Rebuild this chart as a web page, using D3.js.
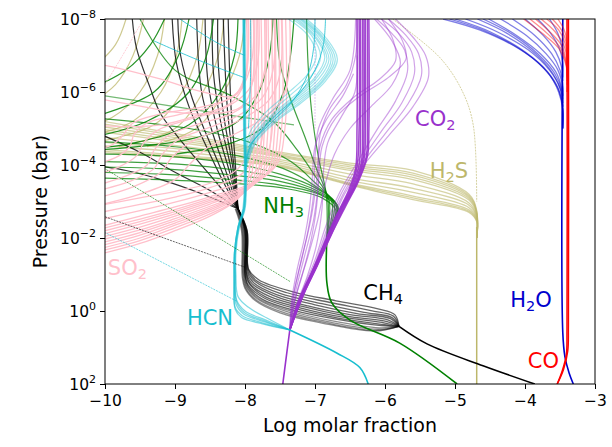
<!DOCTYPE html>
<html>
<head>
<meta charset="utf-8">
<script src="https://cdn.jsdelivr.net/npm/d3@7"></script>
<style>
  body { margin: 0; background: #fff; }
  svg { display: block; font-family: "DejaVu Sans", sans-serif; }
</style>
</head>
<body>
<svg width="612" height="447"></svg>
<script>
// axis ticks
const xTicks = [-10, -9, -8, -7, -6, -5, -4, -3];
const pTicks = [-8, -6, -4, -2, 0, 2];

// every profile is a list of [log molar fraction, log10 pressure (bar)]
const coMain = [
  [[-3.54, 2], [-3.47, 1.65], [-3.41, 1.2], [-3.40, 0.5], [-3.40, -8]],
  [[-3.54, 2], [-3.45, 1.6], [-3.39, 1.1], [-3.38, 0.4], [-3.38, -8]]
];
const coFan = [
  [[-4.02, -8], [-3.75, -7.6], [-3.52, -7.2], [-3.41, -6.7], [-3.40, -6.0]],
  [[-3.93, -8], [-3.68, -7.6], [-3.49, -7.2], [-3.41, -6.75], [-3.40, -6.0]],
  [[-3.85, -8], [-3.62, -7.6], [-3.47, -7.25], [-3.41, -6.8], [-3.40, -6.2]],
  [[-3.77, -8], [-3.57, -7.65], [-3.45, -7.3], [-3.40, -6.9], [-3.40, -6.3]],
  [[-3.69, -8], [-3.52, -7.7], [-3.43, -7.35], [-3.40, -7.0], [-3.40, -6.4]],
  [[-3.61, -8], [-3.48, -7.7], [-3.41, -7.35], [-3.40, -6.6]],
  [[-3.53, -8], [-3.44, -7.7], [-3.40, -7.4], [-3.40, -6.8]]
];

const h2oMain = [
  [[-3.31, 2], [-3.37, 1.7], [-3.43, 1.25], [-3.46, 0.6], [-3.46, -8]]
];
const h2oFan = [
  [[-5.17, -8], [-4.65, -7.7], [-4.1, -7.2], [-3.75, -6.7], [-3.55, -6.2], [-3.47, -5.7], [-3.46, -5.0]],
  [[-5.08, -8], [-4.58, -7.68], [-4.05, -7.15], [-3.72, -6.62], [-3.53, -6.1], [-3.46, -5.6], [-3.46, -5.0]],
  [[-5.0, -8], [-4.5, -7.65], [-4.0, -7.1], [-3.68, -6.55], [-3.52, -6.0], [-3.46, -5.5], [-3.46, -5.0]],
  [[-4.85, -8], [-4.4, -7.65], [-3.95, -7.15], [-3.65, -6.6], [-3.5, -6.1], [-3.46, -5.6], [-3.46, -5.0]],
  [[-4.68, -8], [-4.25, -7.6], [-3.85, -7.05], [-3.6, -6.5], [-3.48, -6.0], [-3.46, -5.6]],
  [[-4.6, -8], [-4.18, -7.58], [-3.82, -7.05], [-3.58, -6.52], [-3.47, -6.02], [-3.46, -5.6]],
  [[-4.52, -8], [-4.12, -7.55], [-3.78, -7.05], [-3.56, -6.55], [-3.47, -6.05], [-3.46, -5.7]],
  [[-4.35, -8], [-3.98, -7.55], [-3.7, -7.05], [-3.53, -6.6], [-3.46, -6.1], [-3.46, -5.8]],
  [[-4.18, -8], [-3.86, -7.55], [-3.62, -7.05], [-3.5, -6.6], [-3.46, -6.2], [-3.46, -5.9]],
  [[-4.0, -8], [-3.74, -7.55], [-3.56, -7.1], [-3.48, -6.7], [-3.46, -6.3]],
  [[-3.82, -8], [-3.63, -7.6], [-3.51, -7.2], [-3.46, -6.8], [-3.46, -6.4]],
  [[-3.65, -8], [-3.53, -7.6], [-3.47, -7.2], [-3.46, -6.9]]
];

const ch4Deep = [
  [[-3.86, 2], [-4.6, 1.5], [-5.4, 0.9], [-5.8, 0.42]]
];
const ch4Band = [
  [[-5.8, 0.42], [-5.86, 0.1], [-6.1, -0.06], [-6.7, -0.28], [-7.3, -0.52], [-7.8, -0.85], [-7.95, -1.15], [-7.97, -2.2], [-8.1, -2.8]],
  [[-5.8, 0.42], [-5.88, 0.14], [-6.2, -0.01], [-6.8, -0.24], [-7.4, -0.5], [-7.83, -0.82], [-7.95, -1.12], [-7.97, -2.2], [-8.1, -2.8]],
  [[-5.8, 0.42], [-5.9, 0.18], [-6.3, 0.04], [-6.9, -0.2], [-7.5, -0.48], [-7.85, -0.8], [-7.96, -1.1], [-7.98, -2.2], [-8.1, -2.8]],
  [[-5.8, 0.42], [-5.92, 0.21], [-6.4, 0.07], [-7.0, -0.17], [-7.55, -0.45], [-7.88, -0.78], [-7.97, -1.08], [-7.98, -2.2], [-8.1, -2.8]],
  [[-5.8, 0.42], [-5.95, 0.25], [-6.5, 0.1], [-7.1, -0.14], [-7.6, -0.43], [-7.9, -0.75], [-7.98, -1.05], [-7.99, -2.2], [-8.1, -2.8]],
  [[-5.8, 0.42], [-5.97, 0.29], [-6.55, 0.14], [-7.15, -0.11], [-7.65, -0.4], [-7.92, -0.73], [-7.98, -1.02], [-7.99, -2.2], [-8.1, -2.8]],
  [[-5.8, 0.42], [-6.0, 0.33], [-6.6, 0.17], [-7.2, -0.08], [-7.7, -0.38], [-7.93, -0.72], [-7.99, -1.0], [-8.0, -2.2], [-8.1, -2.8]],
  [[-5.8, 0.42], [-6.03, 0.37], [-6.65, 0.2], [-7.25, -0.05], [-7.72, -0.35], [-7.95, -0.7], [-8.0, -1.0], [-8.0, -2.2], [-8.1, -2.8]],
  [[-5.8, 0.42], [-6.05, 0.4], [-6.7, 0.22], [-7.3, -0.02], [-7.75, -0.32], [-7.96, -0.68], [-8.0, -1.0], [-8.01, -2.2], [-8.1, -2.8]]
];
const ch4BandGrey = [
  [[-5.8, 0.42], [-6.08, 0.46], [-6.75, 0.27], [-7.35, 0.0], [-7.78, -0.31], [-7.97, -0.66], [-8.01, -1.0], [-8.02, -2.2], [-8.11, -2.8]],
  [[-5.8, 0.42], [-6.1, 0.5], [-6.8, 0.3], [-7.4, 0.02], [-7.8, -0.3], [-7.98, -0.65], [-8.02, -1.0], [-8.03, -2.2], [-8.12, -2.8]],
  [[-5.8, 0.42], [-6.13, 0.53], [-6.85, 0.32], [-7.45, 0.04], [-7.83, -0.29], [-7.99, -0.63], [-8.03, -0.97], [-8.04, -2.2], [-8.13, -2.8]],
  [[-5.8, 0.42], [-6.15, 0.55], [-6.9, 0.33], [-7.5, 0.05], [-7.85, -0.28], [-8.0, -0.62], [-8.04, -0.95], [-8.05, -2.2], [-8.14, -2.8]]
];
const ch4Upper = [
  [[-8.1, -2.8], [-8.4, -3.5], [-8.96, -4.77], [-9.21, -5.42], [-9.36, -6.14], [-9.55, -7.2], [-9.61, -8]],
  [[-8.1, -2.8], [-8.3, -3.5], [-8.55, -4.5], [-8.8, -5.6], [-8.98, -6.8], [-9.04, -8]],
  [[-8.1, -2.8], [-8.28, -3.6], [-8.5, -4.6], [-8.75, -5.8], [-8.92, -7.0], [-8.96, -8]],
  [[-8.1, -2.8], [-8.25, -3.7], [-8.45, -4.8], [-8.62, -6.0], [-8.69, -8]],
  [[-8.1, -2.8], [-8.22, -3.8], [-8.4, -5.0], [-8.53, -6.3], [-8.57, -8]],
  [[-8.1, -2.8], [-8.2, -3.9], [-8.35, -5.2], [-8.45, -6.5], [-8.47, -8]],
  [[-8.1, -2.8], [-8.18, -4.0], [-8.3, -5.3], [-8.38, -6.7], [-8.39, -8]],
  [[-8.1, -2.8], [-8.16, -4.0], [-8.25, -5.5], [-8.31, -8]],
  [[-8.1, -2.8], [-8.14, -4.1], [-8.2, -5.6], [-8.24, -8]],
  [[-8.1, -2.8], [-8.5, -3.3], [-9.0, -3.8], [-9.5, -4.35], [-10.2, -4.95]],
  [[-8.1, -2.8], [-8.6, -3.2], [-9.2, -3.6], [-9.7, -3.85], [-10.2, -4.0]]
];

const nh3Deep = [
  [[-4.97, 2], [-5.79, 0.88], [-6.5, 0.25], [-6.76, -0.22], [-6.83, -0.77], [-6.83, -2.0]]
];
const nh3Fan = [
  [[-6.83, -2.0], [-6.7, -2.75], [-6.9, -3.1], [-7.4, -3.35], [-8.2, -3.5], [-9.2, -3.6], [-10.2, -3.65]],
  [[-6.83, -2.0], [-6.68, -2.8], [-6.92, -3.18], [-7.5, -3.45], [-8.3, -3.62], [-9.2, -3.75], [-10.2, -3.8]],
  [[-6.83, -2.0], [-6.67, -2.85], [-6.95, -3.23], [-7.5, -3.55], [-8.3, -3.75], [-9.2, -3.9], [-10.2, -3.95]],
  [[-6.83, -2.0], [-6.68, -2.88], [-6.98, -3.3], [-7.5, -3.65], [-8.3, -3.9], [-9.2, -4.05], [-10.2, -4.1]],
  [[-6.83, -2.0], [-6.7, -2.92], [-7.0, -3.38], [-7.5, -3.75], [-8.2, -4.05], [-9.2, -4.25], [-10.2, -4.3]],
  [[-6.83, -2.0], [-6.73, -2.96], [-7.02, -3.45], [-7.45, -3.9], [-8.1, -4.25], [-9.0, -4.5], [-10.2, -4.65]],
  [[-6.83, -2.0], [-6.76, -3.0], [-7.02, -3.55], [-7.35, -4.1], [-7.9, -4.6], [-8.8, -5.0], [-10.2, -5.3]],
  [[-6.83, -2.0], [-6.8, -3.05], [-7.0, -3.7], [-7.25, -4.4], [-7.6, -5.2], [-8.2, -5.9], [-9.0, -6.6], [-9.5, -8]],
  [[-6.83, -2.0], [-6.82, -3.1], [-6.98, -3.9], [-7.15, -4.8], [-7.35, -5.8], [-7.5, -6.8], [-7.55, -8]],
  [[-6.83, -2.0], [-6.84, -3.2], [-6.95, -4.2], [-7.05, -5.5], [-7.1, -6.8], [-7.12, -8]]
];
const nh3Upper = [
  [[-9.15, -8], [-9.35, -7.3], [-9.7, -6.6], [-10.2, -6.1]],
  [[-8.8, -8], [-8.95, -7.0], [-9.3, -6.0], [-10.2, -5.3]],
  [[-8.45, -8], [-8.55, -7.0], [-8.8, -6.0], [-9.4, -5.2], [-10.2, -4.75]],
  [[-8.1, -8], [-8.15, -7.0], [-8.35, -6.0], [-8.8, -5.1], [-9.6, -4.6], [-10.2, -4.45]],
  [[-7.6, -8], [-7.65, -7.0], [-7.8, -6.0], [-8.1, -5.2], [-8.8, -4.7], [-10.2, -4.4]],
  [[-7.3, -8], [-7.35, -7.0], [-7.45, -6.0], [-7.7, -5.1], [-8.2, -4.6], [-9.0, -4.3]]
];
const nh3Light = [
  [[-10.2, -5.95], [-9.0, -5.6], [-8.0, -5.3], [-7.3, -5.1]]
];

const hcnDeep = [
  [[-6.24, 2], [-6.36, 1.55], [-6.69, 1.15], [-7.36, 0.52]]
];
const hcnBand = [
  [[-7.36, 0.52], [-7.68, 0.2], [-7.95, -0.1], [-8.1, -0.4], [-8.13, -1.0], [-8.13, -1.6], [-8.08, -2.3], [-8.0, -2.8], [-7.98, -3.5], [-7.99, -5], [-8.0, -8]],
  [[-7.36, 0.52], [-7.7, 0.25], [-8.0, 0.0], [-8.12, -0.3], [-8.14, -1.0], [-8.14, -1.6], [-8.09, -2.3], [-8.01, -2.8], [-7.99, -3.5], [-8.0, -5], [-8.01, -8]],
  [[-7.36, 0.52], [-7.71, 0.28], [-8.01, 0.04], [-8.12, -0.25], [-8.14, -1.0], [-8.14, -1.6], [-8.09, -2.3], [-8.01, -2.8], [-7.99, -3.5], [-8.0, -5], [-8.01, -8]],
  [[-7.36, 0.52], [-7.72, 0.3], [-8.02, 0.08], [-8.13, -0.2], [-8.15, -1.0], [-8.15, -1.6], [-8.1, -2.3], [-8.02, -2.8], [-8.0, -3.5], [-8.01, -5], [-8.02, -8]],
  [[-7.36, 0.52], [-7.74, 0.33], [-8.04, 0.13], [-8.14, -0.1], [-8.15, -0.8], [-8.15, -1.6], [-8.1, -2.3], [-8.02, -2.8], [-8.0, -3.5], [-8.01, -5], [-8.02, -8]],
  [[-7.36, 0.52], [-7.75, 0.35], [-8.05, 0.18], [-8.14, -0.05], [-8.16, -0.6], [-8.15, -1.6], [-8.1, -2.3], [-8.03, -2.8], [-8.01, -3.5], [-8.02, -5], [-8.03, -8]]
];
const hcnUpperFan = [
  [[-8.0, -3.8], [-7.85, -4.6], [-7.55, -5.2], [-7.2, -5.7], [-6.85, -6.3], [-6.68, -6.9], [-6.85, -7.5], [-7.12, -8]],
  [[-8.0, -3.85], [-7.86, -4.62], [-7.56, -5.22], [-7.22, -5.72], [-6.88, -6.3], [-6.71, -6.9], [-6.88, -7.5], [-7.15, -8]],
  [[-8.0, -3.9], [-7.87, -4.65], [-7.58, -5.25], [-7.24, -5.75], [-6.9, -6.3], [-6.74, -6.9], [-6.9, -7.5], [-7.18, -8]],
  [[-8.0, -3.95], [-7.87, -4.68], [-7.59, -5.28], [-7.26, -5.78], [-6.92, -6.32], [-6.77, -6.9], [-6.92, -7.5], [-7.2, -8]],
  [[-8.0, -4.0], [-7.88, -4.7], [-7.6, -5.3], [-7.28, -5.8], [-6.95, -6.35], [-6.8, -6.9], [-6.95, -7.5], [-7.22, -8]],
  [[-8.0, -4.05], [-7.89, -4.72], [-7.62, -5.32], [-7.3, -5.82], [-6.98, -6.38], [-6.83, -6.92], [-6.98, -7.5], [-7.25, -8]],
  [[-8.0, -4.1], [-7.9, -4.75], [-7.63, -5.35], [-7.32, -5.85], [-7.0, -6.4], [-6.86, -6.95], [-7.0, -7.5], [-7.28, -8]],
  [[-8.0, -4.2], [-7.92, -4.8], [-7.66, -5.4], [-7.36, -5.9], [-7.05, -6.45], [-6.92, -6.95], [-7.05, -7.55], [-7.32, -8]],
  [[-8.0, -4.3], [-7.93, -4.9], [-7.7, -5.45], [-7.4, -5.95], [-7.1, -6.5], [-6.98, -7.0], [-7.1, -7.55], [-7.38, -8]]
];
const hcnUpperLines = [
  [[-7.0, -8], [-7.02, -7.2], [-7.1, -6.5], [-7.3, -5.8], [-7.6, -5.2], [-7.9, -4.6], [-8.0, -4.0]],
  [[-6.85, -8], [-6.88, -7.3], [-7.0, -6.6], [-7.25, -5.9], [-7.6, -5.3], [-7.95, -4.5]],
  [[-8.93, -8], [-8.4, -7.35], [-8.0, -7.0]],
  [[-9.3, -7.4], [-8.7, -6.9], [-8.02, -6.4]],
  [[-7.92, -8], [-7.92, -6.5], [-7.95, -5.0]]
];

const co2Deep = [
  [[-7.46, 2], [-7.42, 1.4], [-7.36, 0.52]]
];
const co2Main = [
  [[-7.36, 0.52], [-7.24, -0.25], [-7.05, -1.05], [-6.88, -1.8], [-6.7, -2.6], [-6.52, -3.3], [-6.42, -3.9], [-6.4, -5.0], [-6.4, -8]],
  [[-7.36, 0.52], [-7.23, -0.28], [-7.04, -1.08], [-6.86, -1.85], [-6.68, -2.65], [-6.5, -3.32], [-6.4, -3.95], [-6.37, -5.0], [-6.37, -8]],
  [[-7.36, 0.52], [-7.22, -0.3], [-7.02, -1.1], [-6.85, -1.9], [-6.66, -2.7], [-6.48, -3.35], [-6.37, -4.0], [-6.35, -5.0], [-6.35, -8]],
  [[-7.36, 0.52], [-7.21, -0.33], [-7.01, -1.15], [-6.83, -1.95], [-6.64, -2.75], [-6.46, -3.38], [-6.34, -4.05], [-6.32, -5.0], [-6.32, -8]],
  [[-7.36, 0.52], [-7.2, -0.35], [-7.0, -1.2], [-6.82, -2.0], [-6.62, -2.8], [-6.44, -3.4], [-6.32, -4.1], [-6.3, -5.0], [-6.3, -8]],
  [[-7.36, 0.52], [-7.19, -0.38], [-6.98, -1.22], [-6.8, -2.02], [-6.6, -2.82], [-6.42, -3.45], [-6.3, -4.15], [-6.28, -5.0], [-6.28, -8]],
  [[-7.36, 0.52], [-7.18, -0.4], [-6.97, -1.25], [-6.78, -2.05], [-6.58, -2.85], [-6.4, -3.5], [-6.27, -4.2], [-6.25, -5.0], [-6.25, -8]],
  [[-7.36, 0.52], [-7.17, -0.42], [-6.96, -1.27], [-6.77, -2.08], [-6.56, -2.88], [-6.38, -3.55], [-6.25, -4.25], [-6.23, -5.0], [-6.23, -8]]
];
const co2Light = [
  [[-7.36, 0.52], [-7.3, -0.2], [-7.18, -1.0], [-7.05, -2.0], [-6.97, -3.0], [-6.95, -4.0], [-6.93, -4.8], [-6.8, -5.5], [-6.55, -6.2], [-6.42, -7.0], [-6.4, -8]],
  [[-7.36, 0.52], [-7.32, -0.3], [-7.22, -1.2], [-7.1, -2.2], [-7.02, -3.2], [-7.0, -4.2], [-6.95, -5.0], [-6.75, -5.8], [-6.5, -6.6], [-6.42, -8]],
  [[-7.36, 0.52], [-7.28, -0.1], [-7.12, -0.9], [-6.98, -1.8], [-6.9, -2.8], [-6.88, -3.8], [-6.82, -4.6], [-6.6, -5.4], [-6.43, -6.0], [-6.4, -7]],
  [[-7.36, 0.52], [-7.34, -0.2], [-7.26, -1.1], [-7.15, -2.0], [-7.08, -2.8], [-7.04, -3.6], [-7.0, -4.5], [-6.85, -5.2], [-6.6, -5.9], [-6.45, -6.5]],
  [[-7.36, 0.52], [-7.15, -0.5], [-6.95, -1.4], [-6.78, -2.3], [-6.58, -3.2], [-6.3, -4.0], [-5.95, -4.8], [-5.6, -5.6], [-5.38, -6.4], [-5.42, -7.0], [-5.6, -7.5], [-5.85, -8]],
  [[-7.36, 0.52], [-7.16, -0.5], [-6.96, -1.4], [-6.8, -2.3], [-6.6, -3.2], [-6.34, -4.0], [-6.0, -4.85], [-5.68, -5.65], [-5.48, -6.45], [-5.52, -7.05], [-5.7, -7.55], [-5.95, -8]],
  [[-7.36, 0.52], [-7.17, -0.5], [-6.98, -1.4], [-6.82, -2.3], [-6.63, -3.2], [-6.38, -4.0], [-6.06, -4.9], [-5.76, -5.7], [-5.58, -6.5], [-5.62, -7.1], [-5.8, -7.6], [-6.05, -8]],
  [[-7.36, 0.52], [-7.19, -0.5], [-7.0, -1.4], [-6.85, -2.3], [-6.66, -3.2], [-6.42, -4.0], [-6.12, -4.95], [-5.85, -5.75], [-5.68, -6.55], [-5.72, -7.15], [-5.9, -7.6], [-6.12, -8]],
  [[-7.36, 0.52], [-7.28, -0.5], [-7.15, -1.5], [-7.02, -2.5], [-6.95, -3.5], [-6.9, -4.5], [-6.7, -5.3], [-6.35, -5.9], [-5.95, -6.4], [-5.7, -6.9], [-5.75, -7.4], [-5.95, -8]],
  [[-7.36, 0.52], [-7.3, -0.5], [-7.18, -1.5], [-7.06, -2.5], [-6.98, -3.5], [-6.93, -4.5], [-6.76, -5.25], [-6.45, -5.85], [-6.08, -6.35], [-5.85, -6.85], [-5.88, -7.4], [-6.05, -8]],
  [[-7.36, 0.52], [-7.26, -0.5], [-7.1, -1.5], [-6.96, -2.5], [-6.85, -3.5], [-6.72, -4.3], [-6.5, -5.0], [-6.2, -5.6], [-5.9, -6.2], [-5.78, -6.8], [-5.9, -7.4], [-6.15, -8]]
];
const co2Thin = [
  [[-7.0, -8], [-7.0, -5.0]]
];

const h2sMain = [
  [[-4.69, 2], [-4.69, -2.3]]
];
const h2sBand = [
  [[-4.69, -2.0], [-4.69, -2.75], [-4.8, -3.2], [-5.6, -3.85], [-6.5, -4.05], [-7.5, -4.35], [-8.5, -4.7], [-10.2, -5.25]],
  [[-4.69, -2.0], [-4.69, -2.72], [-4.8, -3.16], [-5.6, -3.78], [-6.5, -4.0], [-7.5, -4.32], [-8.5, -4.65], [-10.2, -5.18]],
  [[-4.69, -2.0], [-4.69, -2.7], [-4.8, -3.12], [-5.6, -3.72], [-6.5, -3.95], [-7.5, -4.28], [-8.5, -4.6], [-10.2, -5.1]],
  [[-4.69, -2.0], [-4.69, -2.67], [-4.8, -3.08], [-5.6, -3.66], [-6.5, -3.9], [-7.5, -4.25], [-8.5, -4.55], [-10.2, -5.02]],
  [[-4.69, -2.0], [-4.69, -2.65], [-4.8, -3.04], [-5.6, -3.6], [-6.5, -3.85], [-7.5, -4.22], [-8.5, -4.5], [-10.2, -4.95]],
  [[-4.69, -2.0], [-4.69, -2.6], [-4.8, -2.96], [-5.6, -3.48], [-6.5, -3.75], [-7.5, -4.15], [-8.5, -4.42], [-10.2, -4.8]],
  [[-4.69, -2.0], [-4.69, -2.57], [-4.8, -2.9], [-5.6, -3.36], [-6.5, -3.65], [-7.5, -4.1], [-8.5, -4.35], [-10.2, -4.65]],
  [[-4.69, -2.0], [-4.69, -2.53], [-4.8, -2.83], [-5.6, -3.25], [-6.5, -3.57], [-7.5, -4.05], [-8.5, -4.28], [-10.2, -4.55]],
  [[-4.69, -2.0], [-4.69, -2.5], [-4.8, -2.77], [-5.6, -3.15], [-6.5, -3.5], [-7.5, -4.0], [-8.5, -4.2], [-10.2, -4.45]],
  [[-4.69, -2.0], [-4.69, -2.47], [-4.8, -2.73], [-5.6, -3.1], [-6.5, -3.47], [-7.5, -3.97], [-8.5, -4.17], [-10.2, -4.4]],
  [[-4.69, -2.0], [-4.69, -2.45], [-4.8, -2.7], [-5.6, -3.05], [-6.5, -3.45], [-7.5, -3.95], [-8.5, -4.15], [-10.2, -4.35]]
];
const h2sUpper = [
  [[-9.7, -8], [-9.85, -7.3], [-10.2, -6.6]],
  [[-9.45, -8], [-9.6, -7.0], [-9.85, -6.2], [-10.2, -5.7]],
  [[-9.15, -8], [-9.25, -7.0], [-9.5, -6.0], [-9.9, -5.3], [-10.2, -5.1]],
  [[-8.9, -8], [-8.98, -7.0], [-9.2, -6.0], [-9.6, -5.2], [-10.2, -4.8]],
  [[-8.6, -8], [-8.68, -7.0], [-8.9, -6.0], [-9.3, -5.1], [-10.2, -4.6]],
  [[-8.3, -8], [-8.38, -7.0], [-8.6, -6.0], [-9.0, -5.0], [-9.8, -4.5]],
  [[-8.0, -8], [-8.08, -7.0], [-8.3, -6.0], [-8.7, -5.0], [-9.4, -4.5]]
];
const h2sThin = [
  [[-5.89, -8], [-5.21, -6.93], [-4.89, -6.0], [-4.74, -5.1], [-4.69, -3.0]]
];

const so2Low = [
  [[-10.2, -1.5], [-9.5, -1.85], [-9.0, -2.2], [-8.5, -2.6], [-8.15, -3.0], [-7.97, -3.5], [-7.92, -4.5], [-7.92, -8]],
  [[-10.2, -1.58], [-9.5, -1.93], [-9.0, -2.28], [-8.5, -2.66], [-8.12, -3.05], [-7.93, -3.55], [-7.87, -4.55], [-7.87, -8]],
  [[-10.2, -1.65], [-9.5, -2.0], [-9.0, -2.35], [-8.5, -2.72], [-8.1, -3.1], [-7.88, -3.6], [-7.82, -4.6], [-7.82, -8]],
  [[-10.2, -1.72], [-9.5, -2.08], [-9.0, -2.41], [-8.5, -2.77], [-8.08, -3.15], [-7.84, -3.65], [-7.77, -4.65], [-7.77, -8]],
  [[-10.2, -1.8], [-9.5, -2.15], [-9.0, -2.47], [-8.5, -2.82], [-8.05, -3.2], [-7.8, -3.7], [-7.73, -4.7], [-7.72, -8]],
  [[-10.2, -1.88], [-9.5, -2.22], [-9.0, -2.53], [-8.5, -2.87], [-8.02, -3.25], [-7.76, -3.75], [-7.68, -4.75], [-7.67, -8]],
  [[-10.2, -1.95], [-9.5, -2.3], [-9.0, -2.6], [-8.5, -2.93], [-8.0, -3.3], [-7.72, -3.8], [-7.63, -4.8], [-7.62, -8]],
  [[-10.2, -2.02], [-9.5, -2.38], [-9.0, -2.66], [-8.5, -2.98], [-7.97, -3.35], [-7.67, -3.85], [-7.58, -4.85], [-7.57, -8]],
  [[-10.2, -2.1], [-9.5, -2.45], [-9.0, -2.72], [-8.5, -3.03], [-7.95, -3.4], [-7.63, -3.9], [-7.53, -4.9], [-7.52, -8]],
  [[-10.2, -2.18], [-9.5, -2.52], [-9.0, -2.78], [-8.5, -3.08], [-7.92, -3.45], [-7.59, -3.95], [-7.48, -4.95], [-7.47, -8]],
  [[-10.2, -2.25], [-9.5, -2.6], [-9.0, -2.85], [-8.5, -3.13], [-7.9, -3.5], [-7.55, -4.0], [-7.43, -5.0], [-7.42, -8]],
  [[-10.2, -2.45], [-9.5, -2.75], [-9.0, -2.98], [-8.5, -3.25], [-8.0, -3.6], [-7.7, -4.2], [-7.6, -5.2], [-7.58, -8]],
  [[-10.2, -2.65], [-9.5, -2.92], [-9.0, -3.12], [-8.5, -3.38], [-8.05, -3.75], [-7.8, -4.4], [-7.72, -5.4], [-7.7, -8]],
  [[-10.2, -2.85], [-9.5, -3.1], [-9.0, -3.28], [-8.5, -3.5], [-8.1, -3.9], [-7.9, -4.6], [-7.85, -5.6], [-7.84, -8]]
];
const so2Hook = [
  [[-10.2, -3.4], [-9.7, -3.7], [-9.4, -4.0], [-9.3, -4.4], [-9.1, -4.8], [-8.7, -5.1], [-8.2, -5.4], [-7.85, -5.9], [-7.72, -6.6], [-7.7, -8]],
  [[-10.2, -3.7], [-9.8, -3.95], [-9.55, -4.25], [-9.45, -4.6], [-9.25, -4.95], [-8.8, -5.25], [-8.3, -5.55], [-7.95, -6.05], [-7.82, -6.8], [-7.8, -8]],
  [[-10.2, -4.0], [-9.85, -4.2], [-9.65, -4.5], [-9.58, -4.85], [-9.4, -5.15], [-8.9, -5.4], [-8.4, -5.65], [-8.05, -6.1], [-7.9, -6.9], [-7.88, -8]],
  [[-10.2, -3.25], [-9.65, -3.55], [-9.3, -3.9], [-9.18, -4.3], [-8.95, -4.7], [-8.55, -5.0], [-8.1, -5.35], [-7.75, -5.85], [-7.6, -6.6], [-7.58, -8]],
  [[-10.2, -3.05], [-9.6, -3.4], [-9.2, -3.8], [-9.05, -4.2], [-8.8, -4.6], [-8.4, -4.95], [-8.0, -5.3], [-7.65, -5.8], [-7.5, -6.5], [-7.48, -8]],
  [[-10.2, -2.85], [-9.5, -3.2], [-9.0, -3.6], [-8.8, -4.0], [-8.55, -4.45], [-8.2, -4.8], [-7.8, -5.2], [-7.5, -5.7], [-7.38, -6.4], [-7.36, -8]],
  [[-10.2, -4.4], [-9.9, -4.55], [-9.75, -4.8], [-9.6, -5.15], [-9.2, -5.4], [-8.6, -5.6], [-8.15, -5.9], [-7.98, -6.6], [-7.96, -8]],
  [[-10.2, -5.1], [-9.7, -5.05], [-9.2, -5.1], [-8.7, -5.35], [-8.2, -5.7], [-8.0, -6.3], [-7.95, -8]],
  [[-10.2, -5.85], [-9.6, -5.65], [-9.0, -5.45], [-8.5, -5.4], [-8.05, -5.6], [-7.9, -6.2], [-7.88, -8]],
  [[-10.2, -6.8], [-9.8, -6.65], [-9.2, -6.35], [-8.6, -6.0], [-8.15, -5.9], [-8.0, -6.4], [-7.98, -8]]
];
const so2Thin = [
  [[-10.0, -6.2], [-9.75, -7.0], [-9.45, -8]]
];

const thinLines = [
  { pts: [[-10.2, -4.13], [-7.35, -0.8]], color: "#008000" },
  { pts: [[-10.2, -2.72], [-8.0, -1.2]], color: "#000000" },
  { pts: [[-10.2, -2.35], [-8.12, -0.27]], color: "#17becf" }
];

const labels = [
  { parts: [["CO"], ["2", "sub"]], at: [-5.57, -5.07], color: "#9932cc" },
  { parts: [["H"], ["2", "sub"], ["S"]], at: [-5.36, -3.64], color: "#bdb76b" },
  { parts: [["NH"], ["3", "sub"]], at: [-7.74, -2.68], color: "#008000" },
  { parts: [["SO"], ["2", "sub"]], at: [-9.96, -0.99], color: "#ffc0cb" },
  { parts: [["HCN"]], at: [-8.83, 0.38], color: "#17becf" },
  { parts: [["CH"], ["4", "sub"]], at: [-6.31, -0.3], color: "#000000" },
  { parts: [["H"], ["2", "sub"], ["O"]], at: [-4.21, -0.11], color: "#0000cd" },
  { parts: [["CO"]], at: [-3.96, 1.56], color: "#ff0000" }
];

const svg = d3.select("svg");
const margin = { left: 105, right: 595, top: 19, bottom: 384 };

const x = d3.scaleLinear().domain([-10, -3]).range([margin.left, margin.right]);
const y = d3.scaleLinear().domain([-8, 2]).range([margin.top, margin.bottom]);

svg.append("defs").append("clipPath").attr("id", "plotClip")
  .append("rect")
  .attr("x", margin.left).attr("y", margin.top)
  .attr("width", margin.right - margin.left).attr("height", margin.bottom - margin.top);

const plot = svg.append("g").attr("clip-path", "url(#plotClip)");

const line = d3.line()
  .x(d => x(d[0]))
  .y(d => y(d[1]))
  .curve(d3.curveCatmullRom.alpha(0.5));

const straight = d3.line()
  .x(d => x(d[0]))
  .y(d => y(d[1]));

function draw(profiles, color, width, opacity, dash) {
  plot.append("g")
    .selectAll("path")
    .data(profiles)
    .join("path")
    .attr("d", line)
    .attr("fill", "none")
    .attr("stroke", color)
    .attr("stroke-width", width)
    .attr("stroke-opacity", opacity)
    .attr("stroke-dasharray", dash || null);
}

// olive / khaki H2S
draw(h2sUpper, "#bdb76b", 1.2, 0.75);
draw(h2sBand, "#bdb76b", 1.3, 0.6);
draw(h2sMain, "#bdb76b", 1.5, 1);
draw(h2sThin, "#bdb76b", 0.7, 0.9, "2,1");

// CH4
draw(ch4Upper, "#000000", 1.2, 0.8);
draw(ch4BandGrey, "#000000", 1.3, 0.45);
draw(ch4Band, "#000000", 1.3, 0.6);
draw(ch4Deep, "#000000", 1.6, 1);

// NH3
draw(nh3Upper, "#008000", 1.2, 0.85);
draw(nh3Light, "#008000", 1.2, 0.55);
draw(nh3Fan, "#008000", 1.2, 0.75);
draw(nh3Deep, "#008000", 1.6, 1);

// CO2
draw(co2Light, "#9932cc", 1.2, 0.45);
draw(co2Thin, "#9932cc", 0.7, 0.4, "2,1");
draw(co2Main, "#9932cc", 1.5, 0.9);
draw(co2Deep, "#9932cc", 1.6, 1);

// H2O and CO
draw(h2oFan, "#0000cd", 1.3, 0.5);
draw(h2oMain, "#0000cd", 1.6, 1);
draw(coFan, "#ff0000", 1.3, 0.45);
draw(coMain, "#ff0000", 1.5, 1);

// SO2
draw(so2Hook, "#ffc0cb", 1.3, 1);
draw(so2Low, "#ffc0cb", 1.3, 1);
draw(so2Thin, "#ffc0cb", 0.8, 1, "2,1");

// HCN
draw(hcnUpperFan, "#17becf", 1.2, 0.4);
draw(hcnUpperLines, "#17becf", 1.0, 0.8);
draw(hcnBand, "#17becf", 1.3, 0.55);
draw(hcnDeep, "#17becf", 1.6, 1);

// thin straight profiles
plot.append("g")
  .selectAll("path")
  .data(thinLines)
  .join("path")
  .attr("d", d => straight(d.pts))
  .attr("fill", "none")
  .attr("stroke", d => d.color)
  .attr("stroke-width", 0.6)
  .attr("stroke-dasharray", "2,1");

// species labels
const lab = svg.append("g").attr("font-size", 21);
labels.forEach(l => {
  const t = lab.append("text")
    .attr("x", x(l.at[0]))
    .attr("y", y(l.at[1]))
    .attr("fill", l.color);
  let shifted = false;
  l.parts.forEach(p => {
    const s = t.append("tspan").text(p[0]);
    if (p[1] === "sub") {
      s.attr("font-size", 14.5).attr("dy", 4);
      shifted = true;
    } else if (shifted) {
      s.attr("dy", -4);
      shifted = false;
    }
  });
});

// frame
svg.append("rect")
  .attr("x", margin.left).attr("y", margin.top)
  .attr("width", margin.right - margin.left).attr("height", margin.bottom - margin.top)
  .attr("fill", "none").attr("stroke", "#000").attr("stroke-width", 1);

// x axis
const xAxis = svg.append("g")
  .attr("transform", `translate(0,${margin.bottom})`)
  .call(d3.axisBottom(x).tickValues(xTicks).tickSize(5).tickPadding(6)
    .tickFormat(d => d < 0 ? "\u2212" + Math.abs(d) : d));
xAxis.select(".domain").remove();
xAxis.selectAll("text").attr("font-size", 15.5).attr("fill", "#000")
  .attr("font-family", "DejaVu Sans, sans-serif");

// y axis (log pressure)
const yAxis = svg.append("g")
  .attr("transform", `translate(${margin.left},0)`)
  .call(d3.axisLeft(y).tickValues(pTicks).tickSize(5).tickFormat(""));
yAxis.select(".domain").remove();
pTicks.forEach(p => {
  const t = svg.append("text")
    .attr("x", margin.left - 9)
    .attr("y", y(p) + 6)
    .attr("text-anchor", "end")
    .attr("font-size", 15.5)
    .attr("fill", "#000");
  t.append("tspan").text("10");
  t.append("tspan").attr("dy", -7).attr("font-size", 11)
    .text(p < 0 ? "\u2212" + Math.abs(p) : String(p));
});

// axis titles
svg.append("text")
  .attr("x", (margin.left + margin.right) / 2)
  .attr("y", 432)
  .attr("text-anchor", "middle")
  .attr("font-size", 19)
  .text("Log molar fraction");

svg.append("text")
  .attr("transform", `translate(47,${(margin.top + margin.bottom) / 2}) rotate(-90)`)
  .attr("text-anchor", "middle")
  .attr("font-size", 19)
  .text("Pressure (bar)");
</script>
</body>
</html>
